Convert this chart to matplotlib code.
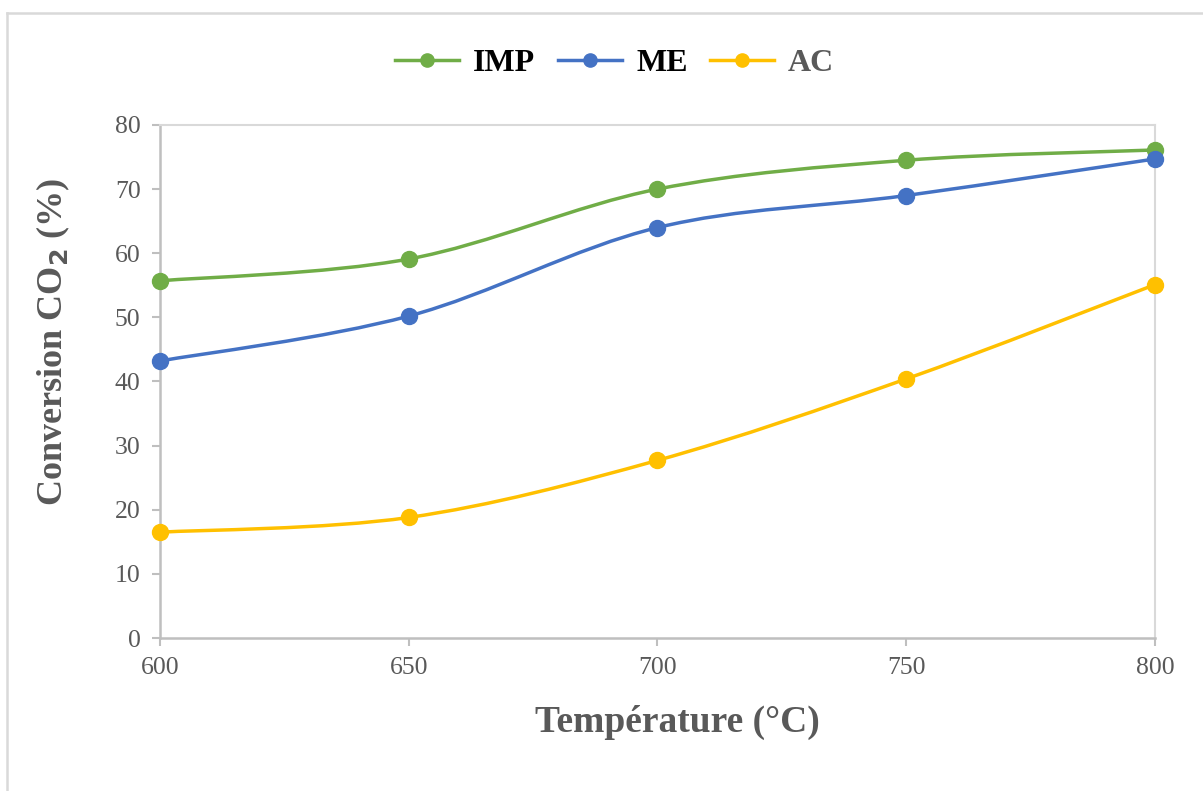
import matplotlib
matplotlib.use("Agg")
import matplotlib.pyplot as plt
from matplotlib.path import Path
from matplotlib.patches import PathPatch
from matplotlib.lines import Line2D

temperatures = [600, 650, 700, 750, 800]
imp = [55.7, 59.1, 70.0, 74.5, 76.1]
me = [43.2, 50.2, 64.0, 69.0, 74.7]
ac = [16.5, 18.8, 27.7, 40.4, 55.1]

series_names = ["IMP", "ME", "AC"]
series_colors = ["#70AD47", "#4472C4", "#FFC000"]
legend_text_colors = ["black", "black", "#595959"]

GRAY = "#595959"
AXIS_GRAY = "#BFBFBF"

plt.rcParams["font.family"] = ["Liberation Serif", "DejaVu Serif"]


def smooth_path(xs, ys, tension=1 / 6):
    # Excel-like smoothed line: cubic Bezier through each point
    pts = list(zip(xs, ys))
    n = len(pts)
    verts = [pts[0]]
    codes = [Path.MOVETO]
    for i in range(n - 1):
        p0 = pts[i - 1] if i > 0 else pts[i]
        p1 = pts[i]
        p2 = pts[i + 1]
        p3 = pts[i + 2] if i + 2 < n else pts[i + 1]
        c1 = (p1[0] + (p2[0] - p0[0]) * tension, p1[1] + (p2[1] - p0[1]) * tension)
        c2 = (p2[0] - (p3[0] - p1[0]) * tension, p2[1] - (p3[1] - p1[1]) * tension)
        verts += [c1, c2, p2]
        codes += [Path.CURVE4] * 3
    return Path(verts, codes)


fig = plt.figure(figsize=(12.03, 7.91), dpi=100)
ax = fig.add_axes([0.133, 0.1934, 0.827, 0.6486])

handles = []
for name, values, color in zip(series_names, [imp, me, ac], series_colors):
    patch = PathPatch(smooth_path(temperatures, values), facecolor="none",
                      edgecolor=color, linewidth=2.5, zorder=3, capstyle="round",
                      clip_on=False)
    ax.add_patch(patch)
    ax.plot(temperatures, values, linestyle="none", marker="o", markersize=11.5,
            color=color, zorder=4, clip_on=False)
    handles.append(Line2D([], [], color=color, linewidth=2.5, marker="o",
                          markersize=9.5, label=name))

ax.set_xlim(600, 800)
ax.set_ylim(0, 80)
ax.set_xticks(temperatures)
ax.set_yticks(range(0, 81, 10))

for side in ["left", "bottom"]:
    ax.spines[side].set_color(AXIS_GRAY)
    ax.spines[side].set_linewidth(1.8)
for side in ["top", "right"]:
    ax.spines[side].set_color("#D9D9D9")
    ax.spines[side].set_linewidth(1.5)

ax.tick_params(axis="both", colors=AXIS_GRAY, width=1.5, length=6,
               labelsize=18.5, labelcolor=GRAY)
ax.tick_params(axis="x", pad=8)
ax.tick_params(axis="y", pad=8)

ax.set_xlabel("Température (°C)", fontsize=27, fontweight="bold", color=GRAY)
ax.xaxis.set_label_coords(0.52, -0.13)
ax.set_ylabel("Conversion CO$_\\mathbf{2}$ (%)", fontsize=26, fontweight="bold",
              color=GRAY)
ax.yaxis.set_label_coords(-0.088, 0.577)

leg = fig.legend(handles=handles, loc="upper center", bbox_to_anchor=(0.511, 0.975),
                 ncol=3, frameon=False, handlelength=2.0,
                 columnspacing=0.7, handletextpad=0.45,
                 prop={"weight": "bold", "size": 23})
for text, c in zip(leg.get_texts(), legend_text_colors):
    text.set_color(c)

# chart area border (top and left visible)
fig.add_artist(Line2D([0.006, 1.0], [0.984, 0.984], color="#D9D9D9", linewidth=1.8,
                      transform=fig.transFigure))
fig.add_artist(Line2D([0.006, 0.006], [0.0, 0.984], color="#D9D9D9", linewidth=1.8,
                      transform=fig.transFigure))

fig.savefig("out.png", dpi=100)
